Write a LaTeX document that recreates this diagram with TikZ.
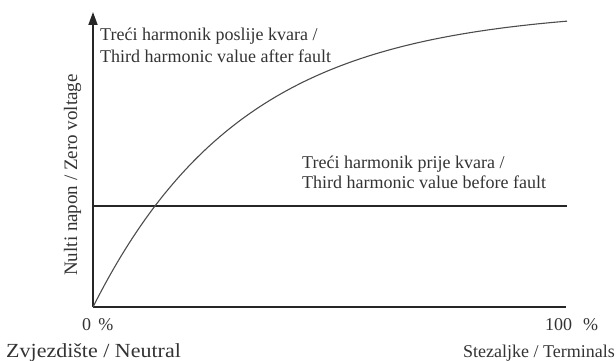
\documentclass[tikz,border=0pt]{standalone}
\usepackage{fontspec}
\setmainfont{Liberation Serif}
\usetikzlibrary{arrows.meta}
\begin{document}
\begin{tikzpicture}[x=1pt,y=-1pt,
  lbl/.style={font=\fontsize{18}{20}\selectfont, text=black!80, inner sep=0pt, anchor=base west},
  axis/.style={line width=1.8pt, black!85},
  refline/.style={line width=1.4pt, black!85},
  curve/.style={line width=1.1pt, black!70}]
\useasboundingbox (0,0) rectangle (616,361);
\coordinate (O) at (93,307);
\coordinate (Ytip) at (93,12);
\coordinate (Xend) at (566,307);
\coordinate (H0) at (93,206);
\coordinate (H1) at (567,206);
\draw[axis] (O) -- (Xend);
\draw[axis, -{Triangle[length=13pt,width=9pt]}] (O) -- (Ytip);
\draw[refline] (H0) -- (H1);
\draw[curve] plot[domain=0:474, samples=120] ({93+\x}, {307-298.5*(1-exp(-\x/150))});
\node[lbl] (a1) at (100,41) {Treći harmonik poslije kvara /};
\node[lbl] (a2) at (100,63) {Third harmonic value after fault};
\node[lbl] (b1) at (302,168) {Treći harmonik prije kvara /};
\node[lbl] (b2) at (302,188) {Third harmonic value before fault};
\node[lbl, rotate=90, anchor=base, font=\fontsize{19}{21}\selectfont] (yl) at (77,175) {Nulti napon / Zero voltage};
\node[lbl] (p0) at (82,330) {0\hspace{0.4em}\%};
\node[lbl] (p100) at (545,330) {100\hspace{0.6em}\%};
\node[lbl, font=\fontsize{20}{22}\selectfont] (n) at (6,357) {\scalebox{1.1}[1]{Zvjezdište / Neutral}};
\node[lbl, anchor=base east] (t) at (615,357) {Stezaljke / Terminals};
\end{tikzpicture}
\end{document}
